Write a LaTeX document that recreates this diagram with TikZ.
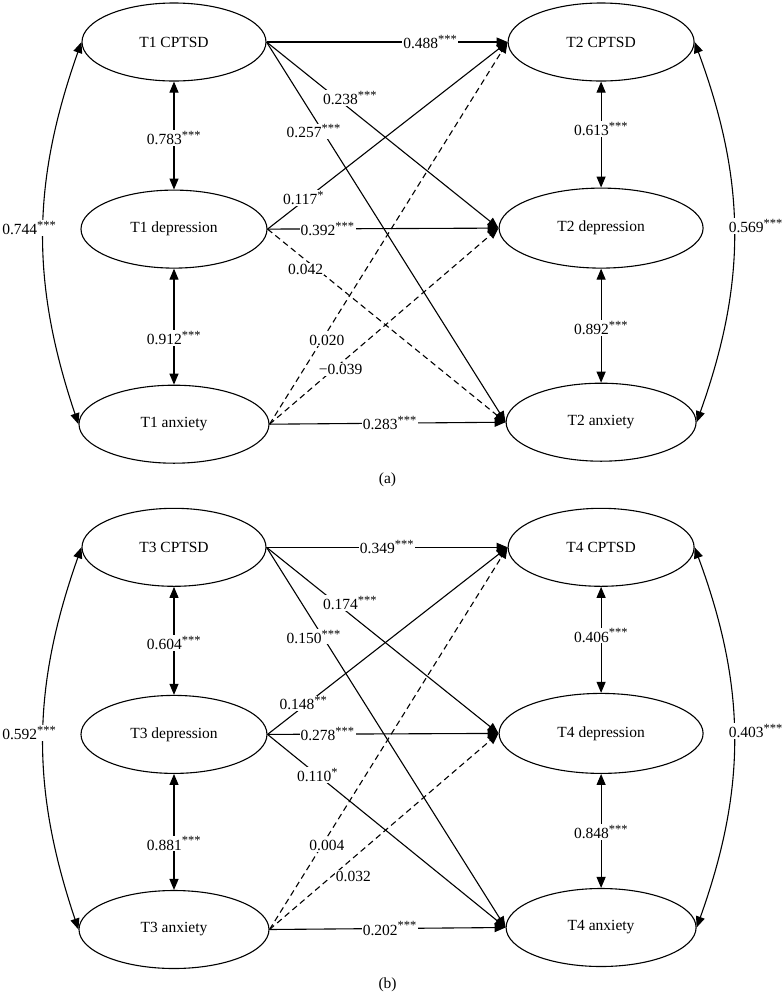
\documentclass[tikz,border=0pt]{standalone}
\usepackage{fontspec}
\setmainfont{Liberation Serif}
\usetikzlibrary{shapes.geometric, arrows.meta, positioning, calc}
\newcommand{\sigst}[1]{\textsuperscript{\fontsize{12.5pt}{12.5pt}\selectfont #1}}

\begin{document}
\begin{tikzpicture}[
    x=1pt, y=1pt,
    every node/.style={font=\fontsize{15.5pt}{18pt}\selectfont},
    latent/.style={ellipse, draw, line width=1.1pt, minimum width=186pt, minimum height=78pt, inner sep=0pt},
    arr/.style={-{Triangle[length=11pt,width=9pt]}, line width=1.1pt},
    dbl/.style={{Triangle[length=11pt,width=9pt]}-{Triangle[length=11pt,width=9pt]}, line width=1.1pt},
    ns/.style={arr, dash pattern=on 6pt off 4pt},
    coef/.style={fill=white, inner sep=1pt}
]
\useasboundingbox (0,0) rectangle (782,-994);

\node[latent, minimum width=184pt] (c1) at (174,-42) {T1 CPTSD};
\node[latent, below=108pt of c1] (d1) {T1 depression};
\node[latent, minimum width=190pt, below=116pt of d1] (a1) {T1 anxiety};
\node[latent, right=241pt of c1] (c2) {T2 CPTSD};
\node[latent, minimum width=204pt, minimum height=80pt, below=106pt of c2] (d2) {T2 depression};
\node[latent, minimum width=190pt, below=114pt of d2] (a2) {T2 anxiety};
\node[below=6pt of $(a1.south)!0.5!(a2.south)$] (lbla) {(a)};

\draw[arr] (c1.east) -- node[coef, pos=.68] {0.488\sigst{***}} (c2.west);
\draw[arr] (c1.east) -- node[coef, pos=.36, yshift=11pt] {0.238\sigst{***}} (d2.west);
\draw[arr] (c1.east) -- node[coef, pos=.235, xshift=-9pt] {0.257\sigst{***}} (a2.west);
\draw[arr] (d1.east) -- node[coef, pos=.15, yshift=3pt] {0.117\sigst{*}} (c2.west);
\draw[arr] (d1.east) -- node[coef, pos=.26] {0.392\sigst{***}} (d2.west);
\draw[ns] (d1.east) -- node[coef, pos=.16, yshift=-9pt] {0.042} (a2.west);
\draw[ns] (a1.east) -- node[coef, pos=.22, xshift=5pt] {0.020} (c2.west);
\draw[ns] (a1.east) -- node[coef, pos=.28, xshift=7pt] {−0.039} (d2.west);
\draw[arr] (a1.east) -- node[coef, pos=.51] {0.283\sigst{***}} (a2.west);

\draw[dbl] (c1.south) -- node[coef, pos=.52] {0.783\sigst{***}} (d1.north);
\draw[dbl] (d1.south) -- node[coef, pos=.6] {0.912\sigst{***}} (a1.north);
\draw[dbl] (c2.south) -- node[coef, pos=.45] {0.613\sigst{***}} (d2.north);
\draw[dbl] (d2.south) -- node[coef, pos=.52] {0.892\sigst{***}} (a2.north);
\draw[dbl] (c1.west) to[bend right=19] node[coef, midway, xshift=-14pt, yshift=5pt] {0.744\sigst{***}} (a1.west);
\draw[dbl] (c2.east) to[bend left=20] node[coef, midway, xshift=22pt, yshift=6pt] {0.569\sigst{***}} (a2.east);

\node[latent, minimum width=184pt, below=44pt of a1] (c3) {T3 CPTSD};
\node[latent, below=108pt of c3] (d3) {T3 depression};
\node[latent, minimum width=190pt, below=116pt of d3] (a3) {T3 anxiety};
\node[latent, right=241pt of c3] (c4) {T4 CPTSD};
\node[latent, minimum width=204pt, minimum height=80pt, below=106pt of c4] (d4) {T4 depression};
\node[latent, minimum width=190pt, below=114pt of d4] (a4) {T4 anxiety};
\node[below=6pt of $(a3.south)!0.5!(a4.south)$] (lblb) {(b)};

\draw[arr] (c3.east) -- node[coef, pos=.5] {0.349\sigst{***}} (c4.west);
\draw[arr] (c3.east) -- node[coef, pos=.36, yshift=11pt] {0.174\sigst{***}} (d4.west);
\draw[arr] (c3.east) -- node[coef, pos=.235, xshift=-9pt] {0.150\sigst{***}} (a4.west);
\draw[arr] (d3.east) -- node[coef, pos=.15, yshift=3pt] {0.148\sigst{**}} (c4.west);
\draw[arr] (d3.east) -- node[coef, pos=.26] {0.278\sigst{***}} (d4.west);
\draw[arr] (d3.east) -- node[coef, pos=.21] {0.110\sigst{*}} (a4.west);
\draw[ns] (a3.east) -- node[coef, pos=.22, xshift=5pt] {0.004} (c4.west);
\draw[ns] (a3.east) -- node[coef, pos=.27, xshift=22pt] {0.032} (d4.west);
\draw[arr] (a3.east) -- node[coef, pos=.51] {0.202\sigst{***}} (a4.west);

\draw[dbl] (c3.south) -- node[coef, pos=.52] {0.604\sigst{***}} (d3.north);
\draw[dbl] (d3.south) -- node[coef, pos=.6] {0.881\sigst{***}} (a3.north);
\draw[dbl] (c4.south) -- node[coef, pos=.46] {0.406\sigst{***}} (d4.north);
\draw[dbl] (d4.south) -- node[coef, pos=.51] {0.848\sigst{***}} (a4.north);
\draw[dbl] (c3.west) to[bend right=19] node[coef, midway, xshift=-14pt, yshift=5pt] {0.592\sigst{***}} (a3.west);
\draw[dbl] (c4.east) to[bend left=20] node[coef, midway, xshift=22pt, yshift=6pt] {0.403\sigst{***}} (a4.east);
\end{tikzpicture}
\end{document}
